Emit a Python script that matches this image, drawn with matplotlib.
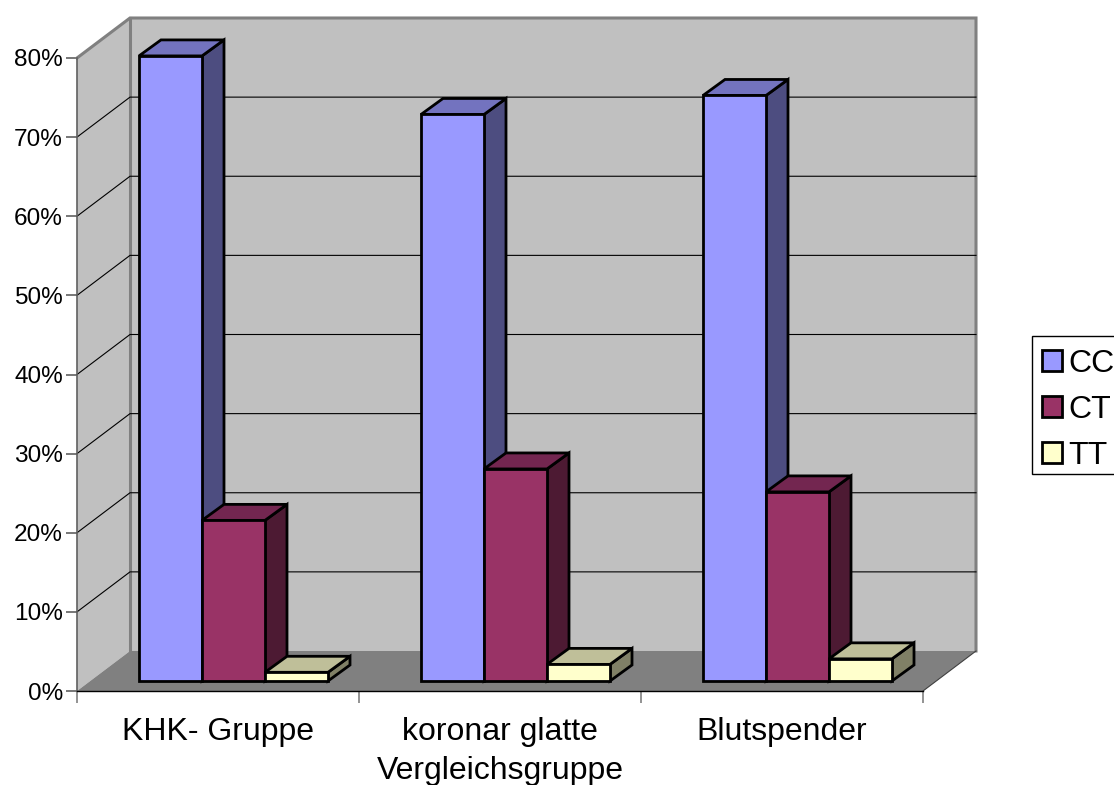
import matplotlib
matplotlib.use("Agg")
import matplotlib.pyplot as plt
from matplotlib.patches import Patch, Rectangle

plt.rcParams['font.family'] = ['Liberation Sans', 'DejaVu Sans']

# Genotype shares per group, in percent
groups = ['KHK- Gruppe', 'koronar glatte\nVergleichsgruppe', 'Blutspender']
series = ['CC', 'CT', 'TT']
cc_values = [79.0, 71.6, 74.0]
ct_values = [20.3, 26.8, 23.9]
tt_values = [1.1, 2.1, 2.8]
y_ticks = [0, 10, 20, 30, 40, 50, 60, 70, 80]

# (front, side, top) colours for each series
cc_colors = ('#9999FF', '#4D4D80', '#7373BF')
ct_colors = ('#993366', '#4D1A33', '#732650')
tt_colors = ('#FFFFCC', '#808066', '#BFBF99')

# Fake 3D layout, everything in data units (1 group wide, y in percent)
W, H = 1114, 785
px_x = 1 / 282.0
px_y = 80 / 633.0
wall_dx = 53 * px_x
wall_dy = 40 * px_y
bar_w = 63 * px_x
bar_dx = 22 * px_x
bar_dy = 16 * px_y
bar_x0 = 62 * px_x
bar_y0 = 10 * px_y

fig = plt.figure(figsize=(W / 100, H / 100), dpi=100)
ax = fig.add_axes([77 / W, (H - 691) / H, 846 / W, 633 / H])
ax.set_xlim(0, 3)
ax.set_ylim(0, 80)
ax.patch.set_visible(False)

wall_grey = '#C0C0C0'
floor_grey = '#808080'

# Left wall, back wall and floor
ax.fill([0, wall_dx, wall_dx, 0], [0, wall_dy, 80 + wall_dy, 80],
        fc=wall_grey, ec='none', clip_on=False, zorder=1)
ax.fill([wall_dx, 3 + wall_dx, 3 + wall_dx, wall_dx],
        [wall_dy, wall_dy, 80 + wall_dy, 80 + wall_dy],
        fc=wall_grey, ec='none', clip_on=False, zorder=1)
ax.fill([0, wall_dx, 3 + wall_dx, 3], [0, wall_dy, wall_dy, 0],
        fc=floor_grey, ec='none', clip_on=False, zorder=1)

# Wall outlines
ax.plot([0, wall_dx, 3 + wall_dx, 3 + wall_dx],
        [80, 80 + wall_dy, 80 + wall_dy, wall_dy],
        color=floor_grey, lw=2.2, clip_on=False, zorder=2,
        solid_joinstyle='miter')
ax.plot([wall_dx, wall_dx], [wall_dy, 80 + wall_dy],
        color=floor_grey, lw=2.2, clip_on=False, zorder=2)

# Grid lines run along the left wall and across the back wall
for v in y_ticks[1:-1]:
    ax.plot([0, wall_dx, 3 + wall_dx], [v, v + wall_dy, v + wall_dy],
            color='black', lw=0.8, clip_on=False, zorder=2)

ax.plot([3, 3 + wall_dx], [0, wall_dy], color='#404040', lw=0.8,
        clip_on=False, zorder=2)


def draw_bar(x, value, colors):
    y = bar_y0
    top = y + value
    style = dict(ec='black', lw=2.0, joinstyle='miter', clip_on=False, zorder=3)
    ax.fill([x + bar_w, x + bar_w + bar_dx, x + bar_w + bar_dx, x + bar_w],
            [y, y + bar_dy, top + bar_dy, top], fc=colors[1], **style)
    ax.fill([x, x + bar_dx, x + bar_w + bar_dx, x + bar_w],
            [top, top + bar_dy, top + bar_dy, top], fc=colors[2], **style)
    ax.fill([x, x + bar_w, x + bar_w, x], [y, y, top, top],
            fc=colors[0], **style)


for g in range(len(groups)):
    draw_bar(g + bar_x0, cc_values[g], cc_colors)
    draw_bar(g + bar_x0 + bar_w, ct_values[g], ct_colors)
    draw_bar(g + bar_x0 + 2 * bar_w, tt_values[g], tt_colors)

# Axes
ax.set_yticks(y_ticks)
ax.set_yticklabels(['%d%%' % v for v in y_ticks], fontsize=17.6)
ax.set_xticks([0, 1, 2, 3])
ax.set_xticklabels([])
ax.set_xticks([0.5, 1.5, 2.5], minor=True)
ax.set_xticklabels(groups, minor=True, fontsize=23, linespacing=1.39)
ax.tick_params(axis='y', length=8, width=1.2, color='#606060', pad=2, labelcolor='black')
ax.tick_params(axis='x', which='major', length=8.5, width=1.2, color='#808080')
ax.tick_params(axis='x', which='minor', length=0, pad=19)

for side in ['top', 'right']:
    ax.spines[side].set_visible(False)
ax.spines['left'].set_color('#606060')
ax.spines['left'].set_linewidth(1.2)
ax.spines['bottom'].set_color('black')
ax.spines['bottom'].set_linewidth(1.0)

# Legend box runs past the right edge of the figure
fig.add_artist(Rectangle((1032 / W, (H - 474) / H), 100 / W, 138 / H,
                         transform=fig.transFigure, fc='white', ec='black', lw=1.0))
handles = [Patch(fc=c[0], ec='black', lw=2.0) for c in (cc_colors, ct_colors, tt_colors)]
leg = fig.legend(handles, series, loc='upper left',
                 bbox_to_anchor=(1032 / W, (H - 339) / H),
                 fontsize=23, frameon=False, borderpad=0.3,
                 handlelength=0.65, handleheight=0.65, handletextpad=0.2,
                 labelspacing=0.5, borderaxespad=0)

fig.savefig('out.png', dpi=100)
